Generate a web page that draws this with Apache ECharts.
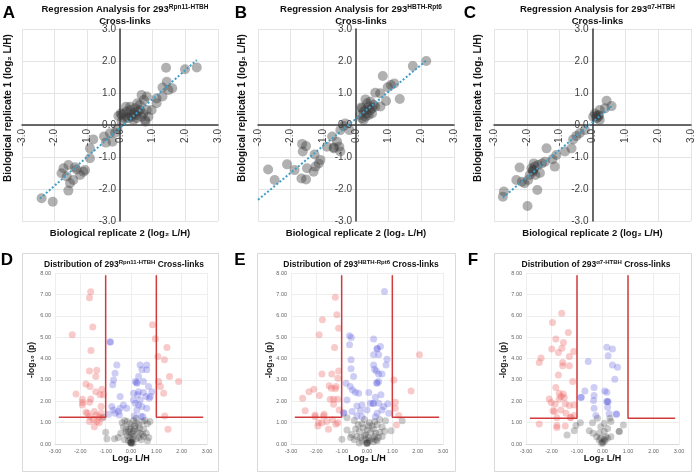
<!DOCTYPE html>
<html><head><meta charset="utf-8">
<script src="https://cdn.jsdelivr.net/npm/echarts@6/dist/echarts.min.js"></script>
<style>html,body{margin:0;padding:0;background:#fff}#c{width:696px;height:474px}</style>
</head><body><div id="c"></div>
<script>
// ---------- data ----------
const regA = [[1.41,1.79],[1.99,1.74],[2.35,1.80],[1.43,1.35],[1.30,1.17],[1.60,1.15],[1.48,1.09],[1.12,0.83],[0.82,0.89],[0.66,0.94],[0.73,0.78],[0.53,0.68],[0.97,0.47],[0.82,0.47],[1.12,0.68],[1.30,0.89],[0.78,0.10],
 [0.10,0.36],[0.20,0.42],[0.31,0.47],[0.36,0.26],[0.41,0.36],[0.46,0.52],[0.51,0.31],[0.56,0.42],[0.61,0.47],[0.66,0.26],[0.71,0.36],[0.26,0.21],[0.15,0.21],[0.05,0.31],[0.41,0.16],[0.51,0.21],[0.31,0.57],[0.61,0.63],[0.77,0.16],[0.87,0.26],[0.02,0.36],[0.18,0.57],[0.05,0.10],[-0.05,0.28],[0.20,0.26],[0.33,0.30],[0.45,0.40],
 [-0.08,-0.12],[-0.15,-0.24],[-0.31,-0.26],[-0.49,-0.36],[-0.43,-0.55],[-0.23,-0.52],[-0.82,-0.45],[-0.92,-0.73],[-0.92,-1.04],[-1.07,-1.41],[-1.12,-1.46],[-1.22,-1.56],[-1.33,-1.39],[-1.38,-1.32],[-1.58,-1.25],[-1.73,-1.35],[-1.79,-1.51],[-1.63,-1.61],[-1.43,-1.72],[-1.53,-1.82],[-1.58,-2.05],[-2.40,-2.29],[-2.06,-2.40]];
const trendA = [[-2.45,-2.30],[2.35,2.03]];

const regB = [[2.15,2.00],[1.74,1.84],[0.82,1.53],[1.17,1.30],[1.07,1.25],[0.97,1.18],[0.59,1.01],[0.74,0.99],[1.34,0.81],[0.92,0.75],[0.29,0.80],
 [0.18,0.52],[0.23,0.42],[0.29,0.47],[0.34,0.36],[0.39,0.57],[0.44,0.47],[0.49,0.52],[0.54,0.63],[0.39,0.31],[0.29,0.26],[0.18,0.21],[0.13,0.31],[0.23,0.16],[0.49,0.36],[0.59,0.57],[0.34,0.68],[0.44,0.73],[0.16,0.55],[0.75,0.58],
 [-0.20,-0.16],[-0.33,0.05],[-0.38,-0.03],[-0.48,-0.16],[-0.73,-0.36],[-0.58,-0.52],[-0.68,-0.73],[-0.51,-0.68],[-0.48,-0.83],[-0.89,-0.68],[-1.09,-1.09],[-1.14,-1.20],[-1.24,-1.30],[-1.30,-1.46],[-1.27,-0.92],[-1.65,-0.59],[-1.53,-0.66],[-1.63,-0.83],[-1.50,-1.35],[-1.67,-1.67],[-1.53,-1.70],[-1.88,-1.41],[-2.11,-1.23],[-2.69,-1.39],[-2.49,-1.72],[-0.68,-0.70]];
const trendB = [[-3.00,-2.34],[2.17,2.03]];

const regC = [[0.43,0.76],[0.58,0.59],[0.38,0.52],[0.22,0.47],[0.07,0.36],[0.17,0.24],[0.22,0.16],[0.02,0.26],[0.12,0.21],[0.17,0.31],[0.12,0.28],[0.20,0.30],
 [-0.23,-0.16],[-0.39,-0.26],[-0.49,-0.34],[-0.59,-0.45],[-0.64,-0.73],[-0.84,-0.83],[-1.10,-0.94],[-1.22,-1.07],[-1.15,-1.30],[-1.40,-0.73],[-1.45,-1.15],[-1.54,-1.20],[-1.66,-1.25],[-1.76,-1.30],[-1.86,-1.35],[-1.81,-1.46],[-1.74,-1.56],[-1.91,-1.56],[-1.96,-1.72],[-1.79,-1.20],[-1.68,-2.03],[-1.98,-2.53],[-2.22,-1.33],[-2.32,-1.72],[-2.15,-1.77],[-2.07,-1.82],[-2.70,-2.08],[-2.73,-2.24],[-1.80,-1.40],[-1.82,-1.42],[-1.60,-1.50]];
const trendC = [[-2.73,-2.27],[0.63,0.63]];

const pinkD = [[-1.59,7.12],[-1.64,6.84],[-1.51,5.47],[-2.32,5.11],[-1.58,4.38],[-1.64,3.42],[-1.35,3.45],[-1.39,3.16],[-1.62,2.69],[-1.78,2.81],[-2.17,2.34],[-1.92,2.09],[-1.91,1.94],[-1.92,1.83],[-1.59,2.11],[-1.64,1.95],[-1.39,2.45],[-1.15,2.56],[-1.22,2.30],[-1.09,2.30],[-1.18,1.75],[-1.78,1.48],[-1.71,1.44],[-1.62,1.28],[-1.45,1.52],[-1.38,1.36],[-1.26,1.28],[-1.18,1.44],[-1.64,1.05],[-1.48,1.13],[-1.35,1.05],[-1.26,1.00],[-1.45,0.81],[-1.15,1.20],
 [0.85,5.58],[0.96,4.92],[1.42,4.52],[1.06,4.09],[1.32,3.94],[1.52,3.16],[1.09,2.92],[1.88,2.92],[1.16,2.69],[1.29,2.38],[1.33,1.31],[1.46,0.69]];
const blueD = [[-0.82,4.78],[-0.82,4.76],[-0.56,3.70],[-0.63,3.31],[-0.69,3.00],[-0.72,2.77],[-0.43,2.22],[-0.76,1.75],[-0.69,1.59],[-0.63,1.44],[-0.89,1.39],[-0.49,1.52],[-0.43,1.67],[-0.30,1.83],[-0.17,1.67],[-0.46,1.36],
 [0.36,3.70],[0.62,3.70],[0.43,3.47],[0.62,3.47],[0.30,3.16],[0.17,2.92],[0.23,2.84],[0.49,2.92],[0.69,2.69],[0.30,2.45],[0.10,2.38],[0.26,2.30],[0.49,2.41],[0.59,2.22],[0.76,2.22],[0.82,2.45],[0.10,2.06],[0.17,1.91],[0.30,1.83],[0.43,1.75],[0.23,1.59],[0.62,1.67],[0.72,2.14],[0.36,2.06],[0.47,1.28],[0.13,1.31],[0.23,2.88],[0.40,1.30]];
const grayD = [[0.00,0.05],[0.02,0.03],[-0.02,0.06],[0.01,0.08],[-0.25,1.10],[-0.35,1.00],[-0.15,1.05],[-0.05,0.95],[0.10,1.10],[0.20,1.00],[0.30,0.90],[0.45,1.05],[0.55,1.10],[0.65,0.95],[0.75,1.05],[-0.30,0.80],[-0.20,0.70],[-0.10,0.60],[0.00,0.80],[0.05,0.50],[0.15,0.70],[0.25,0.60],[0.35,0.50],[0.50,0.70],[0.60,0.50],[-0.40,0.50],[-0.15,0.40],[-0.05,0.30],[0.05,0.20],[0.10,0.35],[0.20,0.25],[0.30,0.30],[0.40,0.20],[0.50,0.35],[0.70,0.30],[-0.25,0.20],[-0.10,0.15],[0.00,0.10],[0.08,0.05],[-1.10,1.25],[-1.00,0.55],[-0.95,0.25],[-0.65,0.25],[-0.50,0.30],[0.65,0.15],[0.10,0.60],[0.00,0.45],[-0.05,0.70],[0.20,1.20],[0.15,0.85],[0.35,0.75],[-0.20,0.55],[0.45,0.45]];
const threshD = 1.25;

const pinkE = [[-1.25,6.86],[-1.19,6.05],[-1.12,5.42],[-1.76,5.81],[-1.89,5.11],[-1.28,4.52],[-1.12,3.42],[-1.39,3.27],[-1.15,3.08],[-1.78,3.28],[-1.49,2.72],[-1.41,2.61],[-1.22,2.69],[-1.25,2.59],[-2.10,2.56],[-2.29,2.45],[-2.54,2.14],[-1.88,2.27],[-1.32,2.09],[-1.45,2.09],[-1.16,2.09],[-2.44,1.56],[-1.32,1.86],[-1.10,1.59],[-2.05,1.36],[-2.05,1.28],[-1.69,1.39],[-1.72,1.31],[-1.92,1.00],[-1.78,1.00],[-1.59,1.05],[-1.94,0.84],[-1.52,0.69],[-1.36,1.13],[-1.23,0.92],[-1.15,1.00],
 [2.07,4.17],[1.74,2.48],[1.06,3.00],[1.12,1.95],[1.12,1.67],[1.25,1.33],[1.16,0.89]];
const blueE = [[0.69,7.14],[-0.69,5.06],[-0.62,4.98],[-0.69,4.64],[-0.63,3.94],[-0.63,3.52],[-0.53,3.16],[-0.83,2.84],[-0.66,2.69],[-0.57,2.53],[-0.46,2.42],[-0.33,2.38],[-0.79,2.06],[-0.92,1.44],[-0.92,1.46],[-0.59,1.52],[-0.40,1.78],[-0.20,1.83],[-0.26,1.56],[-0.40,1.31],[-0.20,1.28],
 [0.26,4.91],[0.53,4.56],[0.40,4.47],[0.40,4.45],[0.26,4.17],[0.46,4.17],[0.79,3.97],[0.75,3.70],[0.26,3.70],[0.30,3.50],[0.37,3.42],[0.46,3.27],[0.59,3.27],[0.40,2.84],[0.38,2.86],[0.46,2.92],[0.07,2.41],[0.55,2.30],[0.33,2.19],[0.13,1.91],[0.26,1.91],[0.24,1.89],[0.46,1.91],[0.66,1.75],[0.82,1.88],[0.59,1.59],[0.40,1.44],[0.33,1.28],[0.86,1.44],[0.00,1.59]];
const grayE = [[0.00,0.05],[0.02,0.08],[-0.02,0.04],[0.01,0.02],[-0.79,1.23],[-0.79,0.66],[-0.99,0.22],[1.39,1.09],[0.95,0.62],[0.73,1.09],[-0.50,1.10],[-0.35,0.90],[-0.20,0.95],[-0.10,1.15],[0.10,1.00],[0.20,0.85],[0.30,1.05],[0.40,0.90],[0.50,1.15],[0.60,0.80],[-0.45,0.70],[-0.30,0.60],[-0.15,0.75],[0.00,0.65],[0.15,0.55],[0.25,0.70],[0.35,0.50],[0.50,0.55],[-0.60,0.45],[-0.40,0.35],[-0.25,0.30],[-0.10,0.40],[0.05,0.30],[0.20,0.25],[0.30,0.35],[0.45,0.30],[0.60,0.35],[-0.50,0.20],[-0.20,0.15],[-0.05,0.20],[0.10,0.15],[0.25,0.10],[0.40,0.15],[0.05,0.85],[-0.05,0.45],[0.35,0.20],[-0.65,0.30],[0.70,0.60],[-0.30,0.05]];
const threshE = 1.25;

const pinkF = [[-1.60,6.12],[-1.96,5.69],[-1.34,5.22],[-1.83,4.91],[-1.53,4.75],[-1.99,4.44],[-1.59,4.48],[-1.73,4.28],[-1.13,4.33],[-2.41,4.02],[-2.48,3.81],[-1.56,3.81],[-1.56,3.66],[-1.30,3.66],[-1.30,4.09],[-1.73,3.23],[-1.17,2.92],[-1.83,2.64],[-1.70,2.38],[-1.54,2.34],[-1.63,2.22],[-1.50,2.17],[-1.70,2.09],[-2.09,2.11],[-2.01,1.94],[-1.86,1.86],[-1.46,1.88],[-1.30,1.80],[-1.11,1.83],[-1.94,1.56],[-1.88,1.52],[-1.63,1.59],[-1.43,1.44],[-1.24,1.25],[-1.11,1.33],[-1.79,1.23],[-1.79,0.86],[-1.79,0.77],[-2.48,0.94],[-1.46,0.84],[-1.26,1.23]];
const blueF = [[0.17,4.53],[0.39,4.45],[0.22,4.13],[0.39,3.70],[0.59,3.59],[-0.56,3.86],[0.48,3.03],[-0.33,2.64],[-0.69,2.48],[-0.85,2.17],[-0.83,2.19],[-0.33,2.27],[0.09,2.48],[0.17,2.42],[-0.35,2.03],[0.17,1.98],[0.19,2.00],[0.22,1.98],[0.20,1.72],[-0.33,1.67],[0.26,1.41],[0.55,1.39],[0.54,1.40],[-0.26,1.33]];
const grayF = [[-0.87,1.00],[-1.04,0.86],[-1.11,0.62],[-1.39,0.42],[-0.39,1.00],[-0.20,1.20],[0.29,1.20],[0.33,1.05],[0.07,0.97],[0.82,0.89],[0.65,0.58],[0.66,0.60],[-0.52,0.62],[-0.37,0.50],[-0.13,0.50],[0.07,0.58],[0.20,0.73],[0.33,0.34],[-0.07,0.27],[0.00,0.11],[0.07,0.22],[-0.13,0.19],[0.13,0.34],[0.20,0.27],[-0.04,0.03],[-0.23,0.34],[-0.07,0.81],[0.02,0.05],[0.10,0.15]];
const threshF = 1.20;

const titlesTop = ['Rpn11-HTBH','HBTH-Rpt6','α7-HTBH'];
const titlesBottom = ['Rpn11-HTBH','HBTH-Rpt6','α7-HTBH'];
const letters = ['A','B','C','D','E','F'];

// ---------- layout ----------
const topGrids = [{left:22,top:29,width:196,height:192},{left:258,top:29,width:196,height:192},{left:494,top:29,width:197,height:192}];
const botGrids = [{left:55,top:273,width:152,height:171},{left:291,top:273,width:152,height:171},{left:526,top:273,width:153,height:171}];
const FF = 'Liberation Sans, Arial, sans-serif';

const grid=[], xAxis=[], yAxis=[], series=[], title=[], graphic=[];
const regs=[regA,regB,regC], trends=[trendA,trendB,trendC];
topGrids.forEach((g,i)=>{
  grid.push(g);
  // axes drawn through the origin: shift each axis to the centre of its grid
  xAxis.push({gridIndex:i,type:'value',min:-3,max:3,interval:1,position:'bottom',offset:-g.height/2,
    axisLine:{onZero:false,lineStyle:{color:'#3a3a3a',width:1.5}},axisTick:{show:false},
    axisLabel:{rotate:90,margin:4,fontSize:10,fontFamily:FF,color:'#404040',formatter:v=>v.toFixed(1)},
    splitLine:{show:true,lineStyle:{color:'#e4e4e4',width:1}},z:3});
  yAxis.push({gridIndex:i,type:'value',min:-3,max:3,interval:1,position:'left',offset:-g.width/2,
    axisLine:{onZero:false,lineStyle:{color:'#3a3a3a',width:1.5}},axisTick:{show:false},
    axisLabel:{margin:4,fontSize:10,fontFamily:FF,color:'#404040',formatter:v=>v.toFixed(1)},
    splitLine:{show:true,lineStyle:{color:'#e4e4e4',width:1}},z:3});
  series.push({type:'scatter',xAxisIndex:i,yAxisIndex:i,data:regs[i],symbolSize:10,
    itemStyle:{color:'rgba(60,60,60,0.5)'},silent:true,z:4});
  series.push({type:'line',xAxisIndex:i,yAxisIndex:i,data:trends[i],symbol:'none',
    lineStyle:{color:'#3f9fc6',width:2,type:[2,2]},silent:true,z:5});
  const cx = g.left + g.width/2;
  title.push({text:'Regression Analysis for 293{s|'+titlesTop[i]+'}\nCross-links',left:cx,top:-1,textAlign:'center',
    textStyle:{fontSize:9.5,fontWeight:'bold',fontFamily:FF,color:'#111',lineHeight:11.5,
      rich:{s:{fontSize:6.5,fontFamily:FF,color:'#111',verticalAlign:'top',lineHeight:11.5,padding:[0,0,3,0]}}}});
  graphic.push({type:'text',x:cx,y:233,style:{text:'Biological replicate 2 (log₂ L/H)',fontSize:9.5,fontWeight:'bold',fontFamily:FF,fill:'#111',textAlign:'center',textVerticalAlign:'middle'}});
  graphic.push({type:'text',x:[8,242,478][i],y:108,rotation:Math.PI/2,style:{text:'Biological replicate 1 (log₂ L/H)',fontSize:10,fontWeight:'bold',fontFamily:FF,fill:'#111',textAlign:'center',textVerticalAlign:'middle'}});
});
const pinks=[pinkD,pinkE,pinkF], blues=[blueD,blueE,blueF], grays=[grayD,grayE,grayF], ths=[threshD,threshE,threshF];
botGrids.forEach((g,j)=>{
  const i=j+3;
  grid.push(g);
  xAxis.push({gridIndex:i,type:'value',min:-3,max:3,interval:1,
    axisLine:{show:true,onZero:false,lineStyle:{color:'#d9d9d9'}},axisTick:{show:false},
    axisLabel:{margin:4,fontSize:5.5,fontFamily:FF,color:'#666',formatter:v=>v.toFixed(2)},
    splitLine:{show:true,lineStyle:{color:'#eeeeee'}}});
  yAxis.push({gridIndex:i,type:'value',min:0,max:8,interval:1,
    axisLine:{show:false,onZero:false},axisTick:{show:false},
    axisLabel:{margin:4,fontSize:5.5,fontFamily:FF,color:'#666',formatter:v=>v.toFixed(2)},
    splitLine:{show:true,lineStyle:{color:'#eeeeee'}}});
  series.push({type:'scatter',xAxisIndex:i,yAxisIndex:i,data:grays[j],symbolSize:7,itemStyle:{color:'rgba(40,40,40,0.3)'},silent:true});
  series.push({type:'scatter',xAxisIndex:i,yAxisIndex:i,data:pinks[j],symbolSize:7,itemStyle:{color:'rgba(235,90,90,0.4)'},silent:true});
  series.push({type:'scatter',xAxisIndex:i,yAxisIndex:i,data:blues[j],symbolSize:7,itemStyle:{color:'rgba(80,80,220,0.35)'},silent:true});
  const t=ths[j];
  series.push({type:'line',xAxisIndex:i,yAxisIndex:i,data:[[-2.85,t],[-1,t],[-1,7.9]],symbol:'none',lineStyle:{color:'#d23a3a',width:1.5},silent:true,z:4});
  series.push({type:'line',xAxisIndex:i,yAxisIndex:i,data:[[1,7.9],[1,t],[2.85,t]],symbol:'none',lineStyle:{color:'#d23a3a',width:1.5},silent:true,z:4});
  const box=[[22,253,196,218],[257,253,198,218],[494,253,197,218]][j];
  graphic.push({type:'rect',shape:{x:box[0]+0.5,y:box[1]+0.5,width:box[2],height:box[3]},style:{fill:'none',stroke:'#d9d9d9',lineWidth:1},z:-1});
  const cx=[119,356,591][j];
  title.push({text:'Distribution of 293{s|'+titlesBottom[j]+'} Cross-links',left:cx,top:254,textAlign:'center',
    textStyle:{fontSize:8.5,fontWeight:'bold',fontFamily:FF,color:'#111',lineHeight:11,
      rich:{s:{fontSize:6,fontFamily:FF,color:'#111',verticalAlign:'top',lineHeight:11,padding:[0,0,3,0]}}}});
  const zx = g.left + g.width/2;
  graphic.push({type:'text',x:zx,y:459,style:{text:'Log₂ L/H',fontSize:9,fontWeight:'bold',fontFamily:FF,fill:'#111',textAlign:'center',textVerticalAlign:'middle'}});
  graphic.push({type:'text',x:[32,270,504][j],y:360,rotation:Math.PI/2,style:{text:'-log₁₀ (p)',fontSize:8.5,fontWeight:'bold',fontFamily:FF,fill:'#111',textAlign:'center',textVerticalAlign:'middle'}});
});
const letterPos=[[9,13],[241,13],[470,13],[7,260],[240,260],[473,260]];
letters.forEach((L,k)=>{
  graphic.push({type:'text',x:letterPos[k][0],y:letterPos[k][1],style:{text:L,fontSize:17,fontWeight:'bold',fontFamily:FF,fill:'#000',textAlign:'center',textVerticalAlign:'middle'}});
});

const chart = echarts.init(document.getElementById('c'),null,{renderer:'canvas'});
chart.setOption({animation:false,backgroundColor:'#fff',grid,xAxis,yAxis,series,title,graphic});
</script></body></html>
